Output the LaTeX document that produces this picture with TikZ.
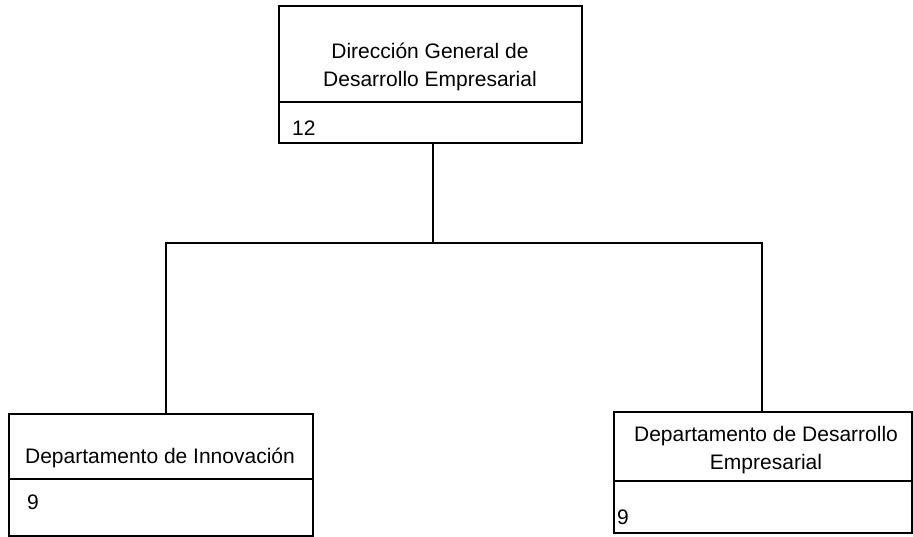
\documentclass[tikz,border=0pt]{standalone}
\usepackage{fontspec}
\setmainfont{Liberation Sans}
\begin{document}
\begin{tikzpicture}[x=1pt,y=-1pt,
  box/.style={draw=black,line width=1.3pt,rectangle,inner sep=0pt},
  sep/.style={line width=1.3pt},
  link/.style={line width=1.3pt},
  lbl/.style={font=\fontsize{21}{28}\selectfont,align=center,inner sep=0pt},
  num/.style={font=\fontsize{21}{28}\selectfont,anchor=west,inner sep=0pt}]
\useasboundingbox (0,0) rectangle (913,537);
% boxes
\node[box,minimum width=303pt,minimum height=137pt] (top) at (430.5,74.5) {};
\node[box,minimum width=304pt,minimum height=122pt] (left) at (161,475) {};
\node[box,minimum width=298pt,minimum height=121pt] (right) at (763,472.5) {};
% dividers
\draw[sep] (top.west |- 0,102) -- (top.east |- 0,102);
\draw[sep] (left.west |- 0,479) -- (left.east |- 0,479);
\draw[sep] (right.west |- 0,481) -- (right.east |- 0,481);
% texts
\node[lbl] (toptxt) at (430,67) {Dirección General de\\Desarrollo Empresarial};
\node[num] (topnum) at (292,128) {12};
\node[lbl] (lefttxt) at (160,458) {Departamento de Innovación};
\node[num] (leftnum) at (27,502) {9};
\node[lbl] (righttxt) at (766,450) {Departamento de Desarrollo\\Empresarial};
\node[num] (rightnum) at (617,517) {9};
% connectors
\coordinate (ts) at (433,143);
\coordinate (j) at (433,243);
\coordinate (lt) at (166,414);
\coordinate (rt) at (762,412);
\draw[link] (ts) -- (j);
\draw[link] (lt) |- (j) -| (rt);
\end{tikzpicture}
\end{document}
